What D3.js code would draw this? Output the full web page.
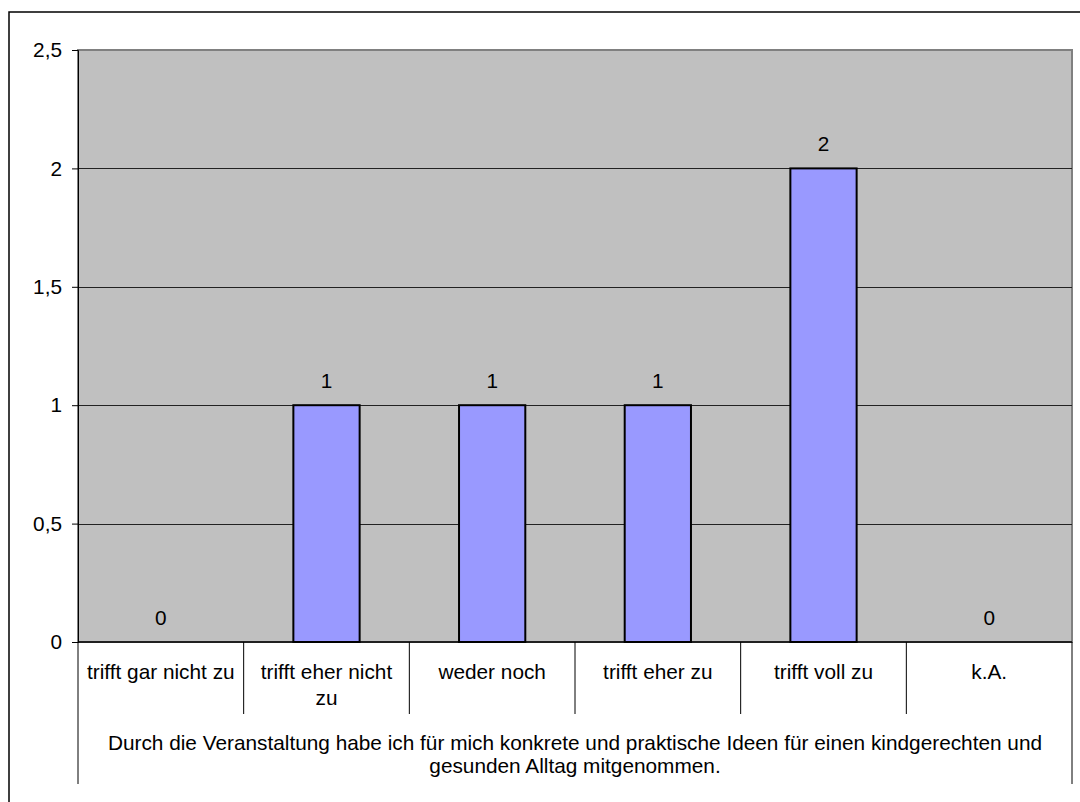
<!DOCTYPE html>
<html><head><meta charset="utf-8">
<script src="https://cdn.jsdelivr.net/npm/d3@7"></script>
<style>body{margin:0;background:#fff}svg{display:block}text{font-family:"Liberation Sans",Arial,sans-serif;fill:#000}</style>
</head><body>
<svg id="c" width="1080" height="802"></svg>
<script>
const categories = ["trifft gar nicht zu","trifft eher nicht zu","weder noch","trifft eher zu","trifft voll zu","k.A."];
const values = [0,1,1,1,2,0];
const yTicks = [0,0.5,1,1.5,2,2.5];
const yTickLabels = ["0","0,5","1","1,5","2","2,5"];
const groupLabel = ["Durch die Veranstaltung habe ich für mich konkrete und praktische Ideen für einen kindgerechten und","gesunden Alltag mitgenommen."];

const FS = "20.8px";
const svg = d3.select("#c");
const L=78,R=1072,T=50,B=642;
svg.append("rect").attr("x",9).attr("y",12).attr("width",1100).attr("height",820).attr("fill","#fff").attr("stroke","#000").attr("stroke-width",1.5);

const x = d3.scaleBand().domain(categories).range([L,R]).paddingInner(0).paddingOuter(0);
const y = d3.scaleLinear().domain([0,2.5]).range([B,T]);

svg.append("rect").attr("x",L).attr("y",T).attr("width",R-L).attr("height",B-T).attr("fill","#c0c0c0").attr("stroke","#808080").attr("stroke-width",2);

// gridlines
svg.append("g").selectAll("line").data(yTicks.filter(d=>d>0&&d<2.5)).join("line")
  .attr("x1",L).attr("x2",R).attr("y1",d=>Math.round(y(d))+0.5).attr("y2",d=>Math.round(y(d))+0.5)
  .attr("stroke","#222").attr("stroke-width",1);

// y axis
const yAxis = d3.axisLeft(y).tickValues(yTicks).tickFormat((d,i)=>yTickLabels[i]).tickSize(6).tickPadding(10);
const ya = svg.append("g").attr("transform",`translate(${L},0)`).call(yAxis);
ya.attr("font-size",FS).attr("font-family","Liberation Sans, Arial, sans-serif");
ya.select(".domain").attr("stroke","#000");
ya.selectAll(".tick line").attr("stroke","#000");
ya.selectAll("text").attr("fill","#000");

// bars
const bw = x.bandwidth()*0.4;
svg.append("g").selectAll("rect").data(values).join("rect")
  .attr("x",(d,i)=>x(categories[i])+x.bandwidth()/2-bw/2)
  .attr("y",d=>y(d)).attr("width",bw).attr("height",d=>y(0)-y(d))
  .attr("fill",d=>d>0?"#9999ff":"none").attr("stroke",d=>d>0?"#000":"none").attr("stroke-width",2);

// value labels
svg.append("g").attr("font-size",FS).selectAll("text").data(values).join("text")
  .attr("x",(d,i)=>x(categories[i])+x.bandwidth()/2).attr("y",d=>y(d)-17)
  .attr("text-anchor","middle").text(d=>d);

// x axis line
svg.append("line").attr("x1",L).attr("x2",R).attr("y1",B).attr("y2",B).attr("stroke","#000").attr("stroke-width",1.5);

// category separators
const seps = categories.map(c=>x(c)).concat([R]);
svg.append("g").selectAll("line").data(seps).join("line")
  .attr("x1",d=>d).attr("x2",d=>d).attr("y1",B)
  .attr("y2",(d,i)=>(i===0||i===seps.length-1)?784:714)
  .attr("stroke","#000").attr("stroke-width",1);

// category labels (wrapped)
const wrapped = {"trifft eher nicht zu":["trifft eher nicht","zu"]};
svg.append("g").attr("font-size",FS).selectAll("text").data(categories).join("text")
  .attr("x",d=>x(d)+x.bandwidth()/2).attr("y",679).attr("text-anchor","middle")
  .each(function(d){
    const lines = wrapped[d]||[d];
    d3.select(this).selectAll("tspan").data(lines).join("tspan")
      .attr("x",x(d)+x.bandwidth()/2).attr("dy",(l,i)=>i===0?0:26).text(l=>l);
  });

// group label
svg.append("g").attr("font-size",FS).selectAll("text").data(groupLabel).join("text")
  .attr("x",(L+R)/2).attr("y",(d,i)=>750+i*23).attr("text-anchor","middle").text(d=>d);
</script>
</body></html>
